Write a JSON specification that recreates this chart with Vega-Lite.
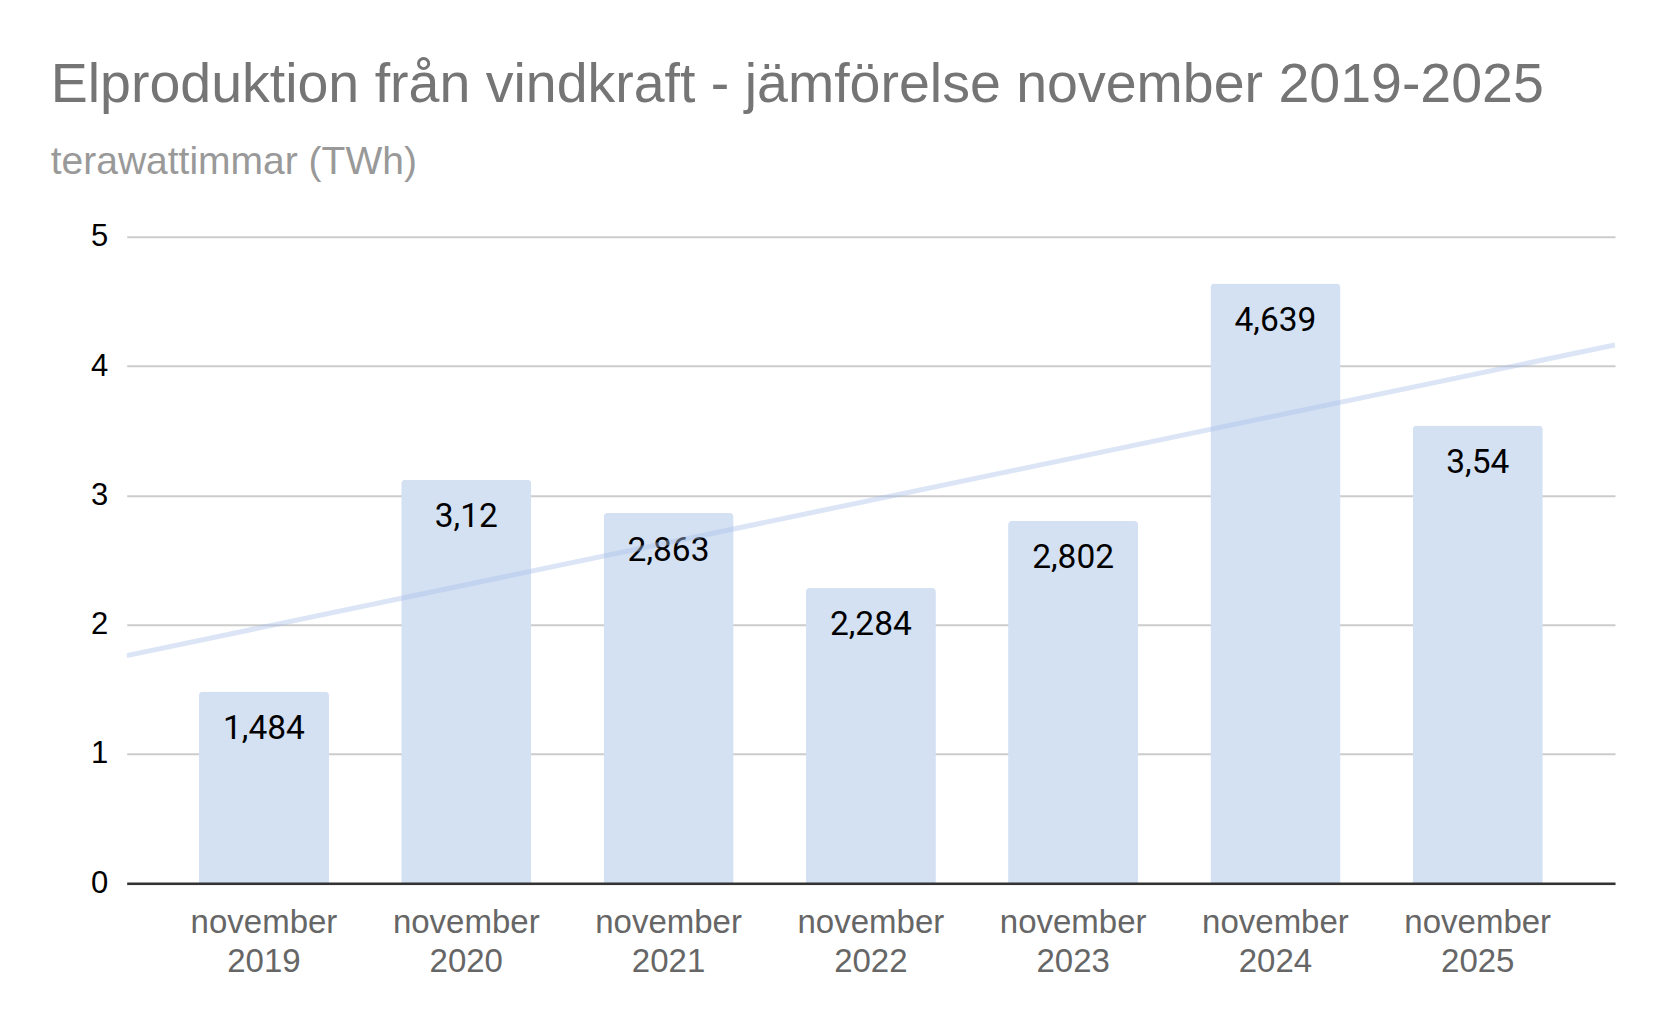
{
  "$schema": "https://vega.github.io/schema/vega-lite/v6.json",
  "autosize": {"type": "none"},
  "width": 1488.3,
  "height": 646.6,
  "padding": {"left": 126.7, "top": 236.7, "right": 51, "bottom": 146.7},
  "background": "#ffffff",
  "config": {
    "view": {"stroke": null},
    "locale": {"number": {"decimal": ",", "thousands": " ", "grouping": [3], "currency": ["", " kr"]}}
  },
  "title": {
    "text": "Elproduktion från vindkraft - jämförelse november 2019-2025",
    "subtitle": "terawattimmar (TWh)",
    "anchor": "start",
    "frame": "group",
    "dx": -76,
    "offset": 38.3,
    "font": "Liberation Sans",
    "fontSize": 55.5,
    "fontWeight": "normal",
    "color": "#757575",
    "subtitleFont": "Liberation Sans",
    "subtitleFontSize": 39,
    "subtitleColor": "#999999",
    "subtitlePadding": 30.4
  },
  "data": {
    "values": [
      {"label": "november 2019", "year": 2019, "value": 1.484},
      {"label": "november 2020", "year": 2020, "value": 3.12},
      {"label": "november 2021", "year": 2021, "value": 2.863},
      {"label": "november 2022", "year": 2022, "value": 2.284},
      {"label": "november 2023", "year": 2023, "value": 2.802},
      {"label": "november 2024", "year": 2024, "value": 4.639},
      {"label": "november 2025", "year": 2025, "value": 3.54}
    ]
  },
  "layer": [
    {
      "encoding": {
        "x": {
          "field": "label", "type": "nominal", "sort": null,
          "scale": {"paddingInner": 0.357, "paddingOuter": 0.357},
          "axis": {
            "title": null,
            "labelAngle": 0,
            "labelExpr": "split(datum.value, ' ')",
            "labelFont": "Liberation Sans",
            "labelFontSize": 33,
            "labelColor": "#666666",
            "labelLineHeight": 38.5,
            "labelPadding": 23.5,
            "ticks": false,
            "domain": true,
            "domainColor": "#333333",
            "domainWidth": 2.5,
            "grid": false,
            "zindex": 2
          }
        },
        "y": {
          "field": "value", "type": "quantitative",
          "scale": {"domain": [0, 5], "nice": false},
          "axis": {
            "title": null,
            "values": [0, 1, 2, 3, 4, 5],
            "format": "d",
            "labelFont": "Liberation Sans",
            "labelFontSize": 31,
            "labelColor": "#000000",
            "labelPadding": 19,
            "ticks": false,
            "domain": false,
            "grid": true,
            "gridColor": "#cccccc",
            "gridWidth": 2
          }
        }
      },
      "layer": [
        {
          "mark": {"type": "bar", "color": "#d4e1f3", "cornerRadiusTopLeft": 4, "cornerRadiusTopRight": 4}
        },
        {
          "mark": {"type": "text", "font": "Roboto", "fontSize": 33.5, "color": "#000000", "baseline": "alphabetic", "dy": 47.5},
          "encoding": {
            "text": {"field": "value", "type": "quantitative", "format": "~g"}
          }
        }
      ]
    },
    {
      "transform": [{"regression": "value", "on": "year", "extent": [2018.3218, 2025.6787]}],
      "mark": {"type": "line", "stroke": "#a9c1ea", "strokeOpacity": 0.42, "strokeWidth": 5, "strokeCap": "butt", "clip": true},
      "encoding": {
        "x": {"field": "year", "type": "quantitative", "scale": {"domain": [2018.3218, 2025.6787], "nice": false, "zero": false}, "axis": null},
        "y": {"field": "value", "type": "quantitative"}
      }
    }
  ],
  "resolve": {"scale": {"x": "independent"}, "axis": {"x": "independent"}}
}
